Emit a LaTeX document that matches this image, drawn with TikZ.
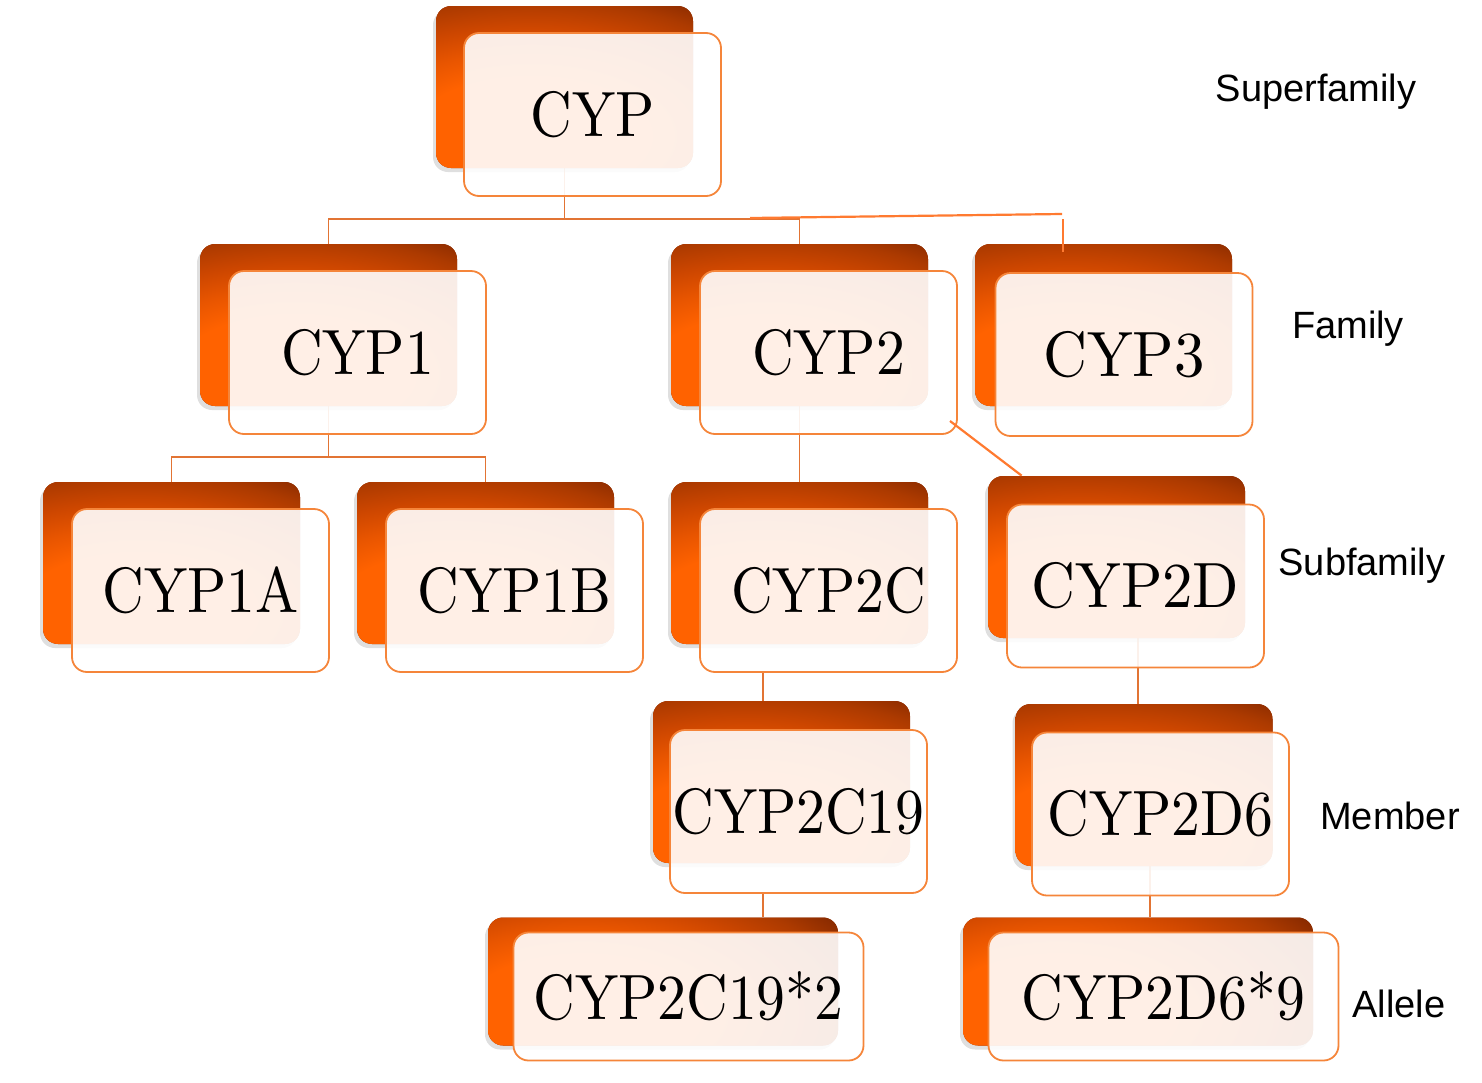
\documentclass[tikz,border=0pt]{standalone}
\usepackage{fontspec}
\usepackage{graphicx}
\setsansfont{Liberation Sans}
\newfontfamily\boxfont{lmroman10-regular}[Extension=.otf, FakeStretch=0.9]
\newfontfamily\boxroomy{lmroman10-regular}[Extension=.otf, FakeStretch=0.95]
\usetikzlibrary{shadows,backgrounds}
\definecolor{cypdark}{HTML}{8A2B00}
\definecolor{cypdeep}{HTML}{AC3A00}
\definecolor{cypmid}{HTML}{CC4600}
\definecolor{cypwarm}{HTML}{E85500}
\definecolor{cypbright}{HTML}{FF6200}
\definecolor{cypline}{HTML}{F5853A}
\definecolor{cyplink}{HTML}{E27434}
\definecolor{cypodd}{HTML}{FF7A30}
\pgfdeclareradialshading{cypglow}{\pgfpointorigin}{color(0bp)=(cypbright); color(30bp)=(cypbright);
  color(42.5bp)=(cypwarm); color(55bp)=(cypmid); color(67.5bp)=(cypdeep); color(77.5bp)=(cypdark);
  color(100bp)=(cypdark)}

\begin{document}
\begin{tikzpicture}[%
    x=0.5pt, y=-0.5pt,          % one unit is one pixel of the source, y runs down
    ]
% -------------------------------------------------
% A few box styles
\tikzset{
  base/.style={rounded corners=7.5pt, inner sep=0pt, minimum width=128.5pt, minimum height=81pt},
  back/.style={base, fill=cypdark, drop shadow={shadow xshift=-1.5pt, shadow yshift=-2pt, opacity=0.25},
    path picture={\node[inner sep=0pt] (glow) at ([shift={(47.5pt,16pt)}]path picture bounding box.south west)
      {\scalebox{2}[1]{\pgfuseshading{cypglow}}};}},
  front/.style={base, draw=cypline, line width=0.9pt, fill=white, fill opacity=0.9, text opacity=1,
    minimum height=81.5pt, font=\boxfont\fontsize{32}{38}\selectfont},
  roomy/.style={font=\boxroomy\fontsize{32}{38}\selectfont},
  wide/.style={minimum width=175pt, minimum height=64pt},
  % Connector line styles
  link/.style={draw=cyplink, line width=0.8pt},
  odd/.style={draw=cypodd, line width=1.1pt},
  tag/.style={font=\fontsize{19}{23}\selectfont\sffamily}
}
\useasboundingbox (0,0) rectangle (1482,1082);
% -------------------------------------------------
% Start by placing the nodes

\node [back] (ab) at (564.5,87) {};
\node [front] (a) at (592.5,114.5) {CYP};
\node [back] (bb) at (328.5,325) {};
\node [front] (b) at (357.5,352.5) {CYP1};
\node [back] (cb) at (799.5,325) {};
\node [front] (c) at (828.5,352.5) {CYP2};
\node [back] (db) at (1103.5,325) {};
\node [front, roomy] (d) at (1124,354.5) {CYP3};
\node [back] (eb) at (171.5,563) {};
\node [front] (e) at (200.5,590.5) {CYP1A};
\node [back] (fb) at (485.5,563) {};
\node [front] (f) at (514.5,590.5) {CYP1B};
\node [back] (gb) at (799.5,563) {};
\node [front] (g) at (828.5,590.5) {CYP2C};
\node [back] (hb) at (1116.5,557) {};
\node [front, roomy] (h) at (1135.5,586) {CYP2D};
\node [back] (ib) at (781.5,782) {};
\node [front] (i) at (798.5,811.5) {CYP2C19};
\node [back] (jb) at (1144,785) {};
\node [front] (j) at (1160.5,814) {CYP2D6};
\node [back, wide] (kb) at (663,981.5) {};
\node [front, wide] (k) at (688.5,996.5) {CYP2C19*2};
\node [back, wide] (lb) at (1138,981.5) {};
\node [front, wide] (l) at (1163.5,996.5) {CYP2D6*9};

\node [tag] (sup) at (1316,92) {Superfamily};
\node [tag] (fam) at (1348,329) {Family};
\node [tag] (sub) at (1362,566) {Subfamily};
\node [tag] (mem) at (1390,816) {Member};
\node [tag] (all) at (1399,1004) {Allele};

% Bus lines and branch columns
\coordinate (bus1) at (0,219);
\coordinate (bus2) at (0,457);
\coordinate (c19) at (763,0);
\coordinate (d6) at (1138,0);
\coordinate (d9) at (1150,0);
\coordinate (s1) at (750,218);
\coordinate (s2) at (1062,214);
\coordinate (t1) at (1063,219);
\coordinate (t2) at (1063,252);
\coordinate (u1) at (950,421);

\begin{scope}[on background layer]
\draw[link] (ab.south) |- (bus1 -| bb.north) -- (bb.north);		%CYP,CYP1
\draw[link] (ab.south |- bus1) -| (cb.north);		%CYP,CYP2
\draw[link] (bb.south) |- (bus2 -| eb.north) -- (eb.north);		%CYP1,CYP1A
\draw[link] (bb.south |- bus2) -| (fb.north);		%CYP1,CYP1B
\draw[link] (cb.south) -- (gb.north);		%CYP2,CYP2C
\draw[link] (g.south -| c19) -- (ib.north -| c19);		%CYP2C,CYP2C19
\draw[link] (hb.south -| d6) -- (jb.north -| d6);		%CYP2D,CYP2D6
\draw[link] (i.south -| c19) -- (kb.north -| c19);		%CYP2C19,CYP2C19*2
\draw[link] (jb.south -| d9) -- (lb.north -| d9);		%CYP2D6,CYP2D6*9
\end{scope}

\draw[odd] (s1) -- (s2);		%CYP,CYP3
\draw[odd] (t1) -- (t2);		%CYP,CYP3
\draw[odd] (u1) -- ([xshift=17pt]hb.north west);		%CYP2,CYP2D

% -------------------------------------------------
\end{tikzpicture}
\end{document}
